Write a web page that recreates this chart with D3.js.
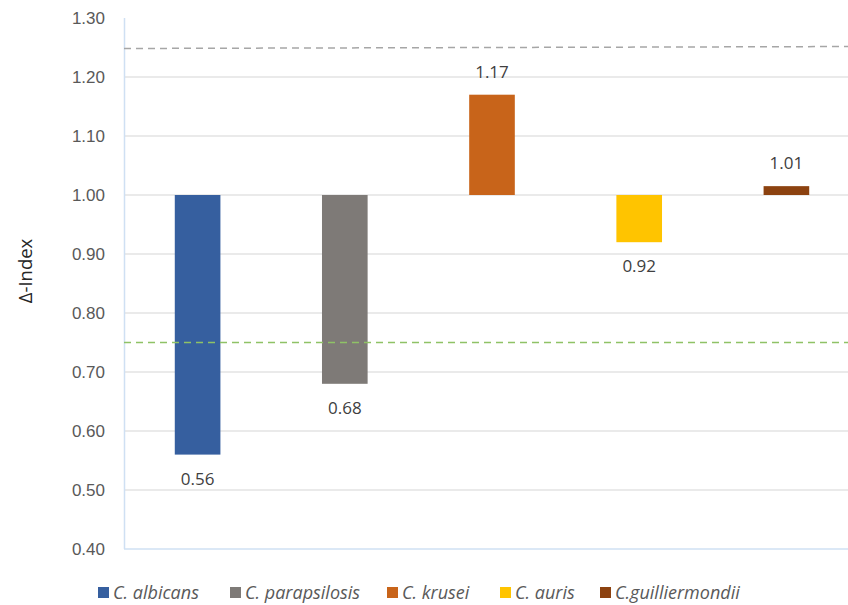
<!DOCTYPE html>
<html>
<head>
<meta charset="utf-8">
<script src="https://cdn.jsdelivr.net/npm/d3@7"></script>
<style>
  body { margin: 0; background: #fff; }
  svg { display: block; font-family: "Open Sans", "Noto Sans", sans-serif; }
</style>
</head>
<body>
<div id="chart"></div>
<script>
// Chart data
const species = ["C. albicans", "C. parapsilosis", "C. krusei", "C. auris", "C.guilliermondii"];
const deltaIndex = [0.56, 0.68, 1.17, 0.92, 1.015];
const valueLabels = ["0.56", "0.68", "1.17", "0.92", "1.01"];
const barColors = ["#365f9f", "#7e7a77", "#c8641a", "#ffc400", "#8c4210"];
const yTicks = [0.40, 0.50, 0.60, 0.70, 0.80, 0.90, 1.00, 1.10, 1.20, 1.30];
const upperLimit = 1.25;
const lowerLimit = 0.75;
const baseline = 1.0;

const W = 848, H = 605;
const margin = {top: 18, right: -12, bottom: 56, left: 124};
const width = W - margin.left - margin.right;
const height = H - margin.top - margin.bottom;

const svg = d3.select("#chart").append("svg")
    .attr("width", W).attr("height", H);

const g = svg.append("g")
    .attr("transform", "translate(" + margin.left + "," + margin.top + ")");

const x = d3.scaleBand().domain(species).range([0, width]).paddingInner(0.69).paddingOuter(0.345);
const y = d3.scaleLinear().domain([0.40, 1.30]).range([height, 0]);

// gridlines
g.selectAll(".grid")
    .data(yTicks.filter(t => t > 0.41 && t < 1.29))
    .enter().append("line")
    .attr("x1", 0).attr("x2", width)
    .attr("y1", d => y(d)).attr("y2", d => y(d))
    .attr("stroke", "#e3e3e3").attr("stroke-width", 1.3);

// y axis
const yAxis = g.append("g")
    .call(d3.axisLeft(y).tickValues(yTicks).tickFormat(d3.format(".2f")).tickSize(0).tickPadding(19));
yAxis.select(".domain").remove();
yAxis.selectAll("text").attr("fill", "#595959").style("font-size", "17px");

// plot frame lines (left + bottom)
g.append("line").attr("x1", 0.5).attr("x2", 0.5).attr("y1", 0).attr("y2", height)
    .attr("stroke", "#cfe0f3").attr("stroke-width", 1.5);
g.append("line").attr("x1", 0).attr("x2", width).attr("y1", height).attr("y2", height)
    .attr("stroke", "#cfe0f3").attr("stroke-width", 1.5);

// bars from baseline 1.0
g.selectAll(".bar")
    .data(deltaIndex)
    .enter().append("rect")
    .attr("class", "bar")
    .attr("x", (d, i) => x(species[i]))
    .attr("width", x.bandwidth())
    .attr("y", d => y(Math.max(d, baseline)))
    .attr("height", d => Math.abs(y(d) - y(baseline)))
    .attr("fill", (d, i) => barColors[i]);

// value labels
g.selectAll(".val")
    .data(deltaIndex)
    .enter().append("text")
    .attr("class", "val")
    .attr("x", (d, i) => x(species[i]) + x.bandwidth() / 2)
    .attr("y", d => d < baseline ? y(d) + 30 : y(d) - 17)
    .attr("text-anchor", "middle")
    .attr("fill", "#404040")
    .style("font-size", "17px")
    .text((d, i) => valueLabels[i]);

// threshold dashed lines
g.append("line")
    .attr("x1", 0).attr("x2", width)
    .attr("y1", y(upperLimit) + 1).attr("y2", y(upperLimit) - 1)
    .attr("stroke", "#a6a6a6").attr("stroke-width", 1.5)
    .attr("stroke-dasharray", "7,5");
g.append("line")
    .attr("x1", 0).attr("x2", width)
    .attr("y1", y(lowerLimit)).attr("y2", y(lowerLimit))
    .attr("stroke", "#8fc266").attr("stroke-width", 1.5)
    .attr("stroke-dasharray", "7,5");

// y axis title
svg.append("text")
    .attr("transform", "translate(32,271)rotate(-90)")
    .attr("text-anchor", "middle")
    .attr("fill", "#262626")
    .style("font-size", "18.5px")
    .text("Δ-Index");

// legend
const legendX = [98, 230, 387, 500, 600];
const legend = svg.append("g").attr("transform", "translate(0,593)");
species.forEach(function(s, i) {
    legend.append("rect")
        .attr("x", legendX[i]).attr("y", -6)
        .attr("width", 11).attr("height", 11)
        .attr("fill", barColors[i]);
    legend.append("text")
        .attr("x", legendX[i] + 15).attr("y", 6)
        .attr("fill", "#595959")
        .style("font-size", "18px")
        .style("font-style", "italic")
        .text(s);
});
</script>
</body>
</html>
